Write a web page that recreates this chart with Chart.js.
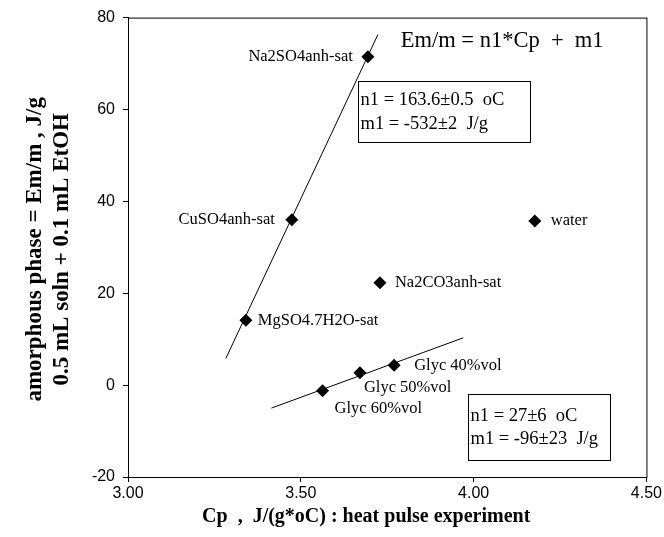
<!DOCTYPE html>
<html>
<head>
<meta charset="utf-8">
<script src="https://cdn.jsdelivr.net/npm/chart.js@4"></script>
<style>
  body { margin: 0; background: #fff; }
</style>
</head>
<body>
<canvas id="cpChart" width="664" height="537"></canvas>
<script>
// samples (Cp read from heat pulse experiment, Em/m amorphous phase)
const sampleNames = ['Na2SO4anh-sat', 'CuSO4anh-sat', 'MgSO4.7H2O-sat', 'Na2CO3anh-sat', 'water', 'Glyc 40%vol', 'Glyc 50%vol', 'Glyc 60%vol'];
const cpValues = [3.694, 3.474, 3.341, 3.729, 4.177, 3.770, 3.671, 3.563];
const emValues = [71.5, 36.0, 14.1, 22.3, 35.7, 4.3, 2.7, -1.2];

// fitted lines Em/m = n1*Cp + m1
const fit1Cp = [3.283, 3.723];
const fit1Em = [5.8, 76.3];
const fit2Cp = [3.415, 3.970];
const fit2Em = [-5.0, 10.3];

const xTicks = [3.0, 3.5, 4.0, 4.5];
const yTicks = [-20, 0, 20, 40, 60, 80];

const equationText = 'Em/m = n1*Cp  +  m1';
const fit1Text = ['n1 = 163.6\u00b10.5  oC', 'm1 = -532\u00b12  J/g'];
const fit2Text = ['n1 = 27\u00b16  oC', 'm1 = -96\u00b123  J/g'];

// label placement next to each point (pixels): dx, dy, align
const labelPlace = [
  [-15, 0, 'right'], [-17, 0, 'right'], [12, 0, 'left'], [15, 0, 'left'],
  [16, 0, 'left'], [20, 0, 'left'], [4, 15, 'left'], [12, 18, 'left']
];

const serif = '"Liberation Serif", "Times New Roman", serif';
const sans = '"Liberation Sans", Arial, sans-serif';

function toPts(xs, ys) {
  return xs.map((x, i) => ({ x: x, y: ys[i] }));
}

// desenha textos, caixas e titulos dos eixos
const extrasPlugin = {
  id: 'extras',
  afterDraw(chart) {
    const ctx = chart.ctx;
    const a = chart.chartArea;
    const xs = chart.scales.x, ys = chart.scales.y;
    ctx.save();

    // moldura
    ctx.strokeStyle = '#000';
    ctx.lineWidth = 1;
    ctx.strokeRect(a.left + 0.5, a.top + 0.5, a.right - a.left, a.bottom - a.top);

    // point labels
    ctx.fillStyle = '#000';
    ctx.font = '16.5px ' + serif;
    ctx.textBaseline = 'middle';
    sampleNames.forEach((name, i) => {
      const p = labelPlace[i];
      ctx.textAlign = p[2];
      ctx.fillText(name, xs.getPixelForValue(cpValues[i]) + p[0], ys.getPixelForValue(emValues[i]) + p[1]);
    });

    // equation
    ctx.textAlign = 'left';
    ctx.font = '22.5px ' + serif;
    ctx.fillText(equationText, xs.getPixelForValue(3.789), ys.getPixelForValue(74.8));

    // boxes
    function box(x0, y0, x1, y1, lines, fs, gap) {
      const l = Math.round(xs.getPixelForValue(x0)) + 0.5;
      const t = Math.round(ys.getPixelForValue(y0)) + 0.5;
      const r = Math.round(xs.getPixelForValue(x1)) + 0.5;
      const b = Math.round(ys.getPixelForValue(y1)) + 0.5;
      ctx.fillStyle = '#fff';
      ctx.fillRect(l, t, r - l, b - t);
      ctx.strokeStyle = '#000';
      ctx.strokeRect(l, t, r - l, b - t);
      ctx.fillStyle = '#000';
      ctx.font = fs + 'px ' + serif;
      ctx.textAlign = 'left';
      const mid = (t + b) / 2;
      lines.forEach((s, i) => {
        ctx.fillText(s, l + 2, mid + (i - (lines.length - 1) / 2) * gap);
      });
    }
    box(3.665, 66.1, 4.162, 52.9, fit1Text, 18.5, 24);
    box(3.985, -2.0, 4.396, -16.3, fit2Text, 18.5, 23);

    // axis titles
    ctx.font = 'bold 20px ' + serif;
    ctx.textAlign = 'center';
    ctx.fillText('Cp  ,  J/(g*oC) : heat pulse experiment', (a.left + a.right) / 2 - 21, 517);

    ctx.translate(0, (a.top + a.bottom) / 2 + 2);
    ctx.rotate(-Math.PI / 2);
    ctx.font = 'bold 23px ' + serif;
    ctx.fillText('amorphous phase = Em/m , J/g', 0, 35);
    ctx.fillText('0.5 mL soln + 0.1 mL EtOH', 0, 62);
    ctx.restore();
  }
};

const ctxChart = document.getElementById('cpChart').getContext('2d');
new Chart(ctxChart, {
  type: 'scatter',
  data: {
    datasets: [
      {
        data: toPts(cpValues, emValues),
        pointStyle: 'rectRot',
        pointRadius: 6.5,
        backgroundColor: '#000',
        borderColor: '#000',
        borderWidth: 0
      },
      {
        type: 'line',
        data: toPts(fit1Cp, fit1Em),
        borderColor: '#000',
        borderWidth: 1,
        pointRadius: 0,
        fill: false
      },
      {
        type: 'line',
        data: toPts(fit2Cp, fit2Em),
        borderColor: '#000',
        borderWidth: 1,
        pointRadius: 0,
        fill: false
      }
    ]
  },
  options: {
    responsive: false,
    animation: false,
    layout: { padding: { top: 16, right: 17, left: 0, bottom: 0 } },
    plugins: {
      legend: { display: false },
      tooltip: { enabled: false }
    },
    scales: {
      x: {
        type: 'linear',
        min: 3.0,
        max: 4.5,
        afterBuildTicks: s => { s.ticks = xTicks.map(v => ({ value: v })); },
        afterFit: s => { s.height = 60; },
        ticks: {
          color: '#000',
          font: { family: sans, size: 16 },
          padding: 2,
          maxRotation: 0,
          callback: v => Number(v).toFixed(2)
        },
        grid: { drawOnChartArea: false, drawTicks: true, tickLength: 5, color: '#000' },
        border: { color: '#000' }
      },
      y: {
        min: -20,
        max: 80,
        afterBuildTicks: s => { s.ticks = yTicks.map(v => ({ value: v })); },
        afterFit: s => { s.width = 128; },
        ticks: {
          color: '#000',
          font: { family: sans, size: 16 },
          padding: 8
        },
        grid: { drawOnChartArea: false, drawTicks: true, tickLength: 5, color: '#000' },
        border: { color: '#000' }
      }
    }
  },
  plugins: [extrasPlugin]
});
</script>
</body>
</html>
